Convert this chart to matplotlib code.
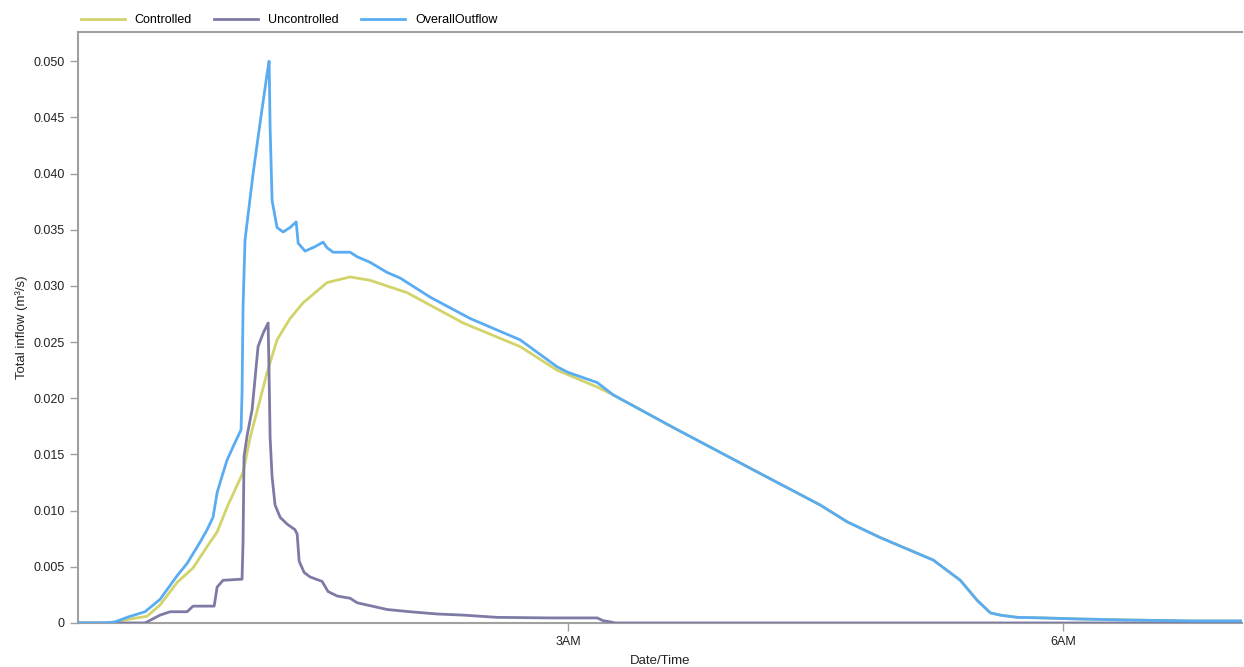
import numpy as np
import matplotlib
matplotlib.use('Agg')
import matplotlib.pyplot as plt

plt.rcParams['font.family'] = ['Liberation Sans', 'DejaVu Sans']

# time in hours after midnight, flow in m3/s
t_overall = [0.030, 0.194, 0.255, 0.333, 0.436, 0.527, 0.630, 0.691, 0.770, 0.812,
             0.848, 0.873, 0.891, 0.933, 0.970, 1.018, 1.024, 1.030, 1.042, 1.091,
             1.133, 1.176, 1.188, 1.194, 1.206, 1.236, 1.273, 1.315, 1.352, 1.364,
             1.406, 1.467, 1.515, 1.539, 1.576, 1.679, 1.721, 1.800, 1.903, 1.982,
             2.164, 2.406, 2.709, 2.933, 3.000, 3.176, 3.273, 3.636, 4.164, 4.527,
             4.691, 4.891, 5.212, 5.376, 5.479, 5.558, 5.618, 5.721, 5.879, 6.085,
             6.364, 6.788, 7.091]
q_overall = [0.0, 0.0, 0.0001, 0.00053, 0.0010, 0.0021, 0.0042, 0.0053, 0.0072, 0.0083,
             0.0094, 0.0116, 0.0125, 0.0145, 0.0157, 0.0172, 0.0205, 0.0281, 0.0341, 0.0400,
             0.0445, 0.0489, 0.0500, 0.0441, 0.0376, 0.0352, 0.0348, 0.0352, 0.0357, 0.0338,
             0.0331, 0.0335, 0.0339, 0.0334, 0.0330, 0.0330, 0.0326, 0.0321, 0.0312, 0.0307,
             0.0290, 0.0271, 0.0252, 0.0228, 0.0223, 0.0214, 0.0203, 0.0174, 0.0133, 0.0105,
             0.0090, 0.0076, 0.0056, 0.0038, 0.0020, 0.0009, 0.0007, 0.0005, 0.00045, 0.00036,
             0.00027, 0.00018, 0.00018]

t_controlled = [0.030, 0.224, 0.327, 0.448, 0.527, 0.630, 0.727, 0.812, 0.873, 0.933,
                1.030, 1.073, 1.176, 1.236, 1.315, 1.394, 1.539, 1.679, 1.800, 2.024,
                2.364, 2.709, 2.933, 3.176, 3.273, 3.636, 4.164, 4.527, 4.691, 4.891,
                5.212, 5.376, 5.479, 5.558, 5.618, 5.721, 5.879, 6.085, 6.364, 6.788, 7.091]
q_controlled = [0.0, 0.0, 0.0003, 0.0006, 0.0016, 0.0036, 0.0049, 0.0068, 0.0081, 0.0103,
                0.0134, 0.0165, 0.0223, 0.0252, 0.0271, 0.0285, 0.0303, 0.0308, 0.0305, 0.0294,
                0.0267, 0.0246, 0.0225, 0.0210, 0.0203, 0.0174, 0.0133, 0.0105, 0.0090, 0.0076,
                0.0056, 0.0038, 0.0020, 0.0009, 0.0007, 0.0005, 0.00045, 0.00036, 0.00027, 0.00018, 0.00018]

t_uncontrolled = [0.030, 0.436, 0.527, 0.588, 0.691, 0.727, 0.855, 0.873, 0.909, 1.024,
                  1.030, 1.036, 1.055, 1.085, 1.121, 1.152, 1.182, 1.188, 1.194, 1.206,
                  1.224, 1.255, 1.297, 1.345, 1.358, 1.370, 1.400, 1.436, 1.509, 1.545,
                  1.600, 1.679, 1.721, 1.842, 1.903, 2.042, 2.206, 2.364, 2.570, 2.891,
                  3.176, 3.212, 3.255, 3.285, 7.091]
q_uncontrolled = [0.0, 0.0, 0.0007, 0.0010, 0.0010, 0.0015, 0.0015, 0.0032, 0.0038, 0.0039,
                  0.0072, 0.0148, 0.0167, 0.0190, 0.0246, 0.0258, 0.0267, 0.0220, 0.0165, 0.0130,
                  0.0105, 0.0094, 0.0088, 0.0083, 0.0079, 0.0055, 0.0045, 0.0041, 0.0037, 0.0028,
                  0.0024, 0.0022, 0.0018, 0.0014, 0.0012, 0.0010, 0.0008, 0.0007, 0.0005, 0.00045,
                  0.00045, 0.0002, 0.0001, 0.0, 0.0]

y_ticks = [0, 0.005, 0.010, 0.015, 0.020, 0.025, 0.030, 0.035, 0.040, 0.045, 0.050]
y_labels = ['0', '0.005', '0.010', '0.015', '0.020', '0.025', '0.030', '0.035', '0.040', '0.045', '0.050']
x_ticks = [3, 6]
x_labels = ['3AM', '6AM']

fig = plt.figure(figsize=(12.44, 6.67), dpi=100)
ax = fig.add_axes([0.0627, 0.066, 0.936, 0.886])

ax.plot(t_controlled, q_controlled, color='#d2d36a', lw=2, label='Controlled', zorder=3)
ax.plot(t_uncontrolled, q_uncontrolled, color='#7d7ba6', lw=2, label='Uncontrolled', zorder=3)
ax.plot(t_overall, q_overall, color='#5aacf2', lw=2, label='OverallOutflow', zorder=3)

ax.set_xlim(0.030, 7.085)
ax.set_ylim(0, 0.0526)
ax.set_yticks(y_ticks)
ax.set_yticklabels(y_labels)
ax.set_xticks(x_ticks)
ax.set_xticklabels(x_labels)

gray = '#a0a0a0'
for side in ['left', 'bottom', 'top']:
    ax.spines[side].set_color(gray)
    ax.spines[side].set_linewidth(1.5)
ax.spines['right'].set_visible(False)
ax.tick_params(axis='both', colors=gray, labelcolor='#222222', labelsize=9, length=6, width=1)

ax.set_xlabel('Date/Time', fontsize=9.5, color='#222222', labelpad=5)
ax.set_ylabel('Total inflow (m³/s)', fontsize=9.5, color='#222222', labelpad=4)

fig.legend(loc='upper left', bbox_to_anchor=(0.056, 0.996), ncol=3, frameon=False,
           fontsize=9, handlelength=3.5, handletextpad=0.8, columnspacing=1.8)

fig.savefig('out.png', dpi=100)
